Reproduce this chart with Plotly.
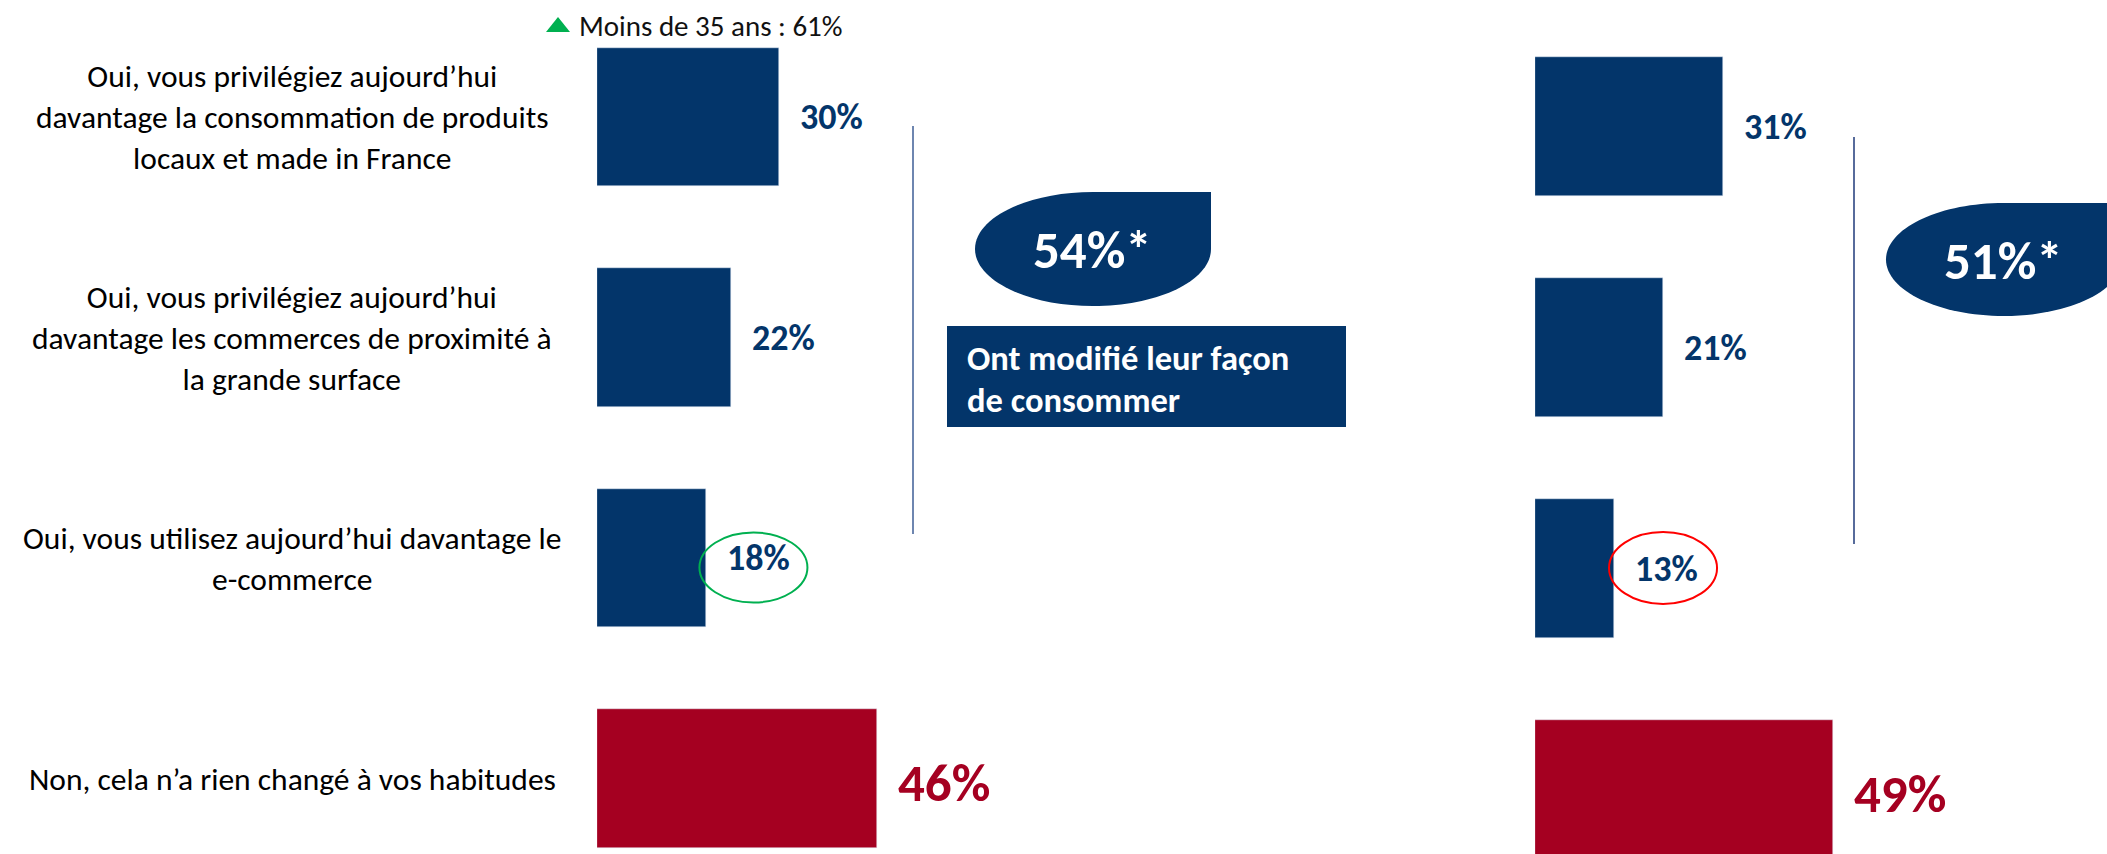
import plotly.graph_objects as go

# Données
reponses = [
    "Oui, vous privilégiez aujourd’hui<br>davantage la consommation de produits<br>locaux et made in France",
    "Oui, vous privilégiez aujourd’hui<br>davantage les commerces de proximité à<br>la grande surface",
    "Oui, vous utilisez aujourd’hui davantage le<br>e-commerce",
    "Non, cela n’a rien changé à vos habitudes",
]
vague1 = [30, 22, 18, 46]
vague2 = [31, 21, 13, 49]
total_oui = ["54%*", "51%*"]
note_jeunes = "Moins de 35 ans : 61%"
encadre = ["Ont modifié leur façon", "de consommer"]

W, H = 2107, 854
BLEU = "#03356A"
ROUGE = "#A50021"
VERT = "#00B050"
FONT = "Calibri, Carlito, Lato, sans-serif"

couleurs = [BLEU, BLEU, BLEU, ROUGE]
pos = list(range(len(reponses)))


def px(x):
    return x / W


def py(y):
    return 1 - y / H


def goutte(cx, cy, rx, ry):
    # ellipse avec le coin haut-droit carré
    k = 0.5523
    pts = [
        ("M", [(cx, cy - ry)]),
        ("L", [(cx + rx, cy - ry)]),
        ("L", [(cx + rx, cy)]),
        ("C", [(cx + rx, cy + k * ry), (cx + k * rx, cy + ry), (cx, cy + ry)]),
        ("C", [(cx - k * rx, cy + ry), (cx - rx, cy + k * ry), (cx - rx, cy)]),
        ("C", [(cx - rx, cy - k * ry), (cx - k * rx, cy - ry), (cx, cy - ry)]),
    ]
    s = ""
    for cmd, pp in pts:
        s += cmd + " ".join(f"{px(a):.5f},{py(b):.5f}" for a, b in pp) + " "
    return s + "Z"


fig = go.Figure()
fig.add_trace(go.Bar(x=vague1, y=pos, orientation="h", marker_color=couleurs,
                     width=0.63, xaxis="x", yaxis="y", hoverinfo="skip"))
fig.add_trace(go.Bar(x=vague2, y=pos, orientation="h", marker_color=couleurs,
                     width=0.63, xaxis="x2", yaxis="y2", hoverinfo="skip"))

PXPCT = 6.08
XR = 55
ax = dict(showgrid=False, zeroline=False, showticklabels=False, showline=False,
          range=[0, XR], fixedrange=True)
ay = dict(showgrid=False, zeroline=False, showticklabels=False, showline=False,
          domain=[0, 1], fixedrange=True)

# centres des barres (px) et pas vertical
c0g, sg = 117, 220.5
c0d, sd = 126.5, 221
fig.update_layout(
    width=W, height=H, margin=dict(l=0, r=0, t=0, b=0),
    paper_bgcolor="white", plot_bgcolor="white", showlegend=False,
    bargap=0,
    xaxis=dict(ax, domain=[px(597), px(597 + PXPCT * XR)]),
    xaxis2=dict(ax, domain=[px(1535), px(1535 + PXPCT * XR)], anchor="y2"),
    yaxis=dict(ay, range=[3 + (H - (c0g + 3 * sg)) / sg, -c0g / sg], anchor="x"),
    yaxis2=dict(ay, range=[3 + (H - (c0d + 3 * sd)) / sd, -c0d / sd], anchor="x2"),
)

ann = []
# libellés des réponses
for i, t in enumerate(reponses):
    ann.append(dict(x=px(292), y=i, xref="paper", yref="y", text=t, showarrow=False,
                    xanchor="center", yanchor="middle", align="center",
                    font=dict(family=FONT, size=31.5, color="#000000")))

# valeurs
for xa, ya, vals in [("x", "y", vague1), ("x2", "y2", vague2)]:
    for i, v in enumerate(vals):
        grand = i == len(vals) - 1
        ann.append(dict(x=v, y=i, xref=xa, yref=ya, text=f"<b>{v}%</b>", showarrow=False,
                        xanchor="left", yanchor="middle", xshift=19,
                        yshift=-4 if grand else 0,
                        font=dict(family=FONT, size=53 if grand else 36,
                                  color=ROUGE if grand else BLEU)))

# bulles total
ann.append(dict(x=px(1092), y=py(250), xref="paper", yref="paper", text=f"<b>{total_oui[0]}</b>",
                showarrow=False, xanchor="center", yanchor="middle",
                font=dict(family=FONT, size=53, color="white")))
ann.append(dict(x=px(2003), y=py(261), xref="paper", yref="paper", text=f"<b>{total_oui[1]}</b>",
                showarrow=False, xanchor="center", yanchor="middle",
                font=dict(family=FONT, size=53, color="white")))

# encadré
for j, (t, yy) in enumerate(zip(encadre, [358, 400])):
    ann.append(dict(x=px(965), y=py(yy), xref="paper", yref="paper", text=f"<b>{t}</b>",
                    showarrow=False, xanchor="left", yanchor="middle",
                    font=dict(family=FONT, size=34.5, color="white")))

# note moins de 35 ans
ann.append(dict(x=px(577), y=py(26), xref="paper", yref="paper", text=note_jeunes,
                showarrow=False, xanchor="left", yanchor="middle",
                font=dict(family=FONT, size=29, color="#111111")))

shapes = [
    dict(type="path", xref="paper", yref="paper", path=goutte(1093, 249, 118, 57),
         fillcolor=BLEU, line=dict(width=0)),
    dict(type="path", xref="paper", yref="paper", path=goutte(2004, 259.5, 118, 56.5),
         fillcolor=BLEU, line=dict(width=0)),
    dict(type="rect", xref="paper", yref="paper", x0=px(947), x1=px(1346), y0=py(427), y1=py(326),
         fillcolor=BLEU, line=dict(width=0)),
    dict(type="line", xref="paper", yref="paper", x0=px(913), x1=px(913), y0=py(126), y1=py(534),
         line=dict(color="#3E5E96", width=1.5)),
    dict(type="line", xref="paper", yref="paper", x0=px(1854), x1=px(1854), y0=py(137), y1=py(544),
         line=dict(color="#1F3A7A", width=1.5)),
    dict(type="path", xref="paper", yref="paper",
         path=f"M{px(546)},{py(32)} L{px(570)},{py(32)} L{px(558)},{py(17)} Z",
         fillcolor=VERT, line=dict(width=0)),
    # cercles autour de 18% et 13%
    dict(type="circle", xref="x", yref="y", xsizemode="pixel", ysizemode="pixel",
         xanchor=vague1[2], yanchor=2, x0=-7, x1=101, y0=-44.5, y1=25.5,
         line=dict(color=VERT, width=2)),
    dict(type="circle", xref="x2", yref="y2", xsizemode="pixel", ysizemode="pixel",
         xanchor=vague2[2], yanchor=2, x0=-5, x1=103, y0=-35.5, y1=36.5,
         line=dict(color="#FF0000", width=2)),
]

fig.update_layout(annotations=ann, shapes=shapes)
fig.write_html("out.html", config={"displayModeBar": False},
               post_script="document.body.style.margin='0';")
